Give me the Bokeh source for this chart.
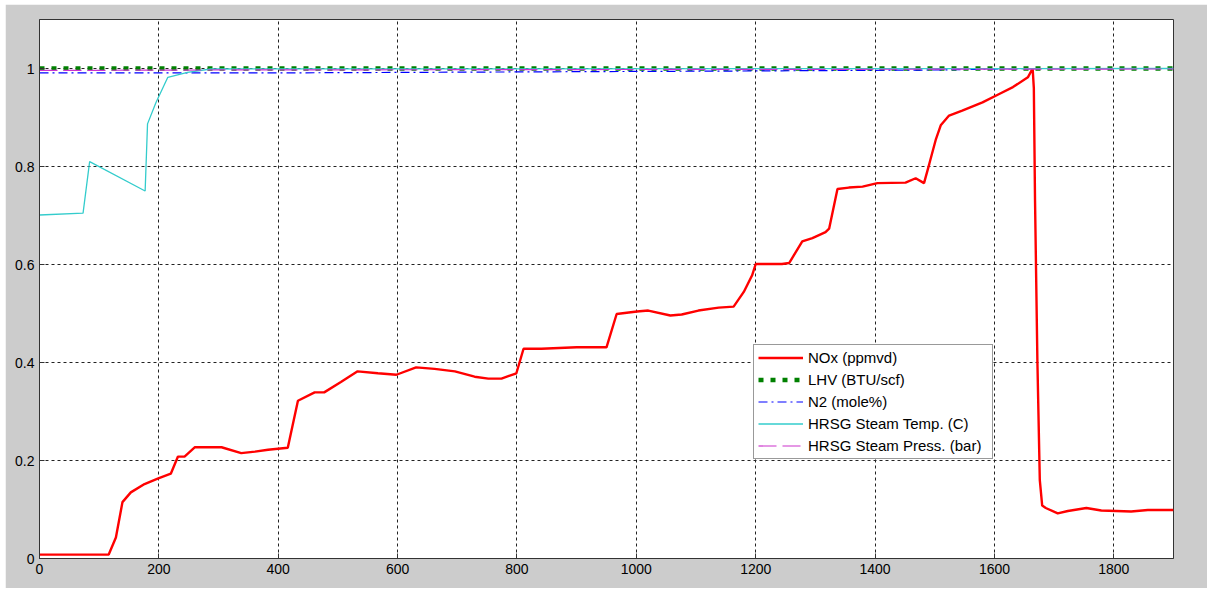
from bokeh.plotting import figure
from bokeh.models import Range1d, FixedTicker
from bokeh.embed import file_html
from bokeh.resources import INLINE

# ---- data (normalised values) ----
nox_x = [0, 116, 128, 139, 153, 176, 198, 220, 232, 243, 260, 305, 338, 361, 383, 416,
         433, 461, 477, 505, 533, 567, 598, 631, 662, 696, 729, 752, 774, 799, 811, 841,
         900, 950, 967, 1001, 1020, 1057, 1076, 1104, 1138, 1163, 1180, 1194, 1200, 1244,
         1256, 1278, 1295, 1317, 1323, 1337, 1356, 1379, 1404, 1451, 1468, 1482, 1491,
         1502, 1510, 1524, 1546, 1580, 1608, 1631, 1656, 1664, 1666, 1668, 1672, 1676,
         1680, 1686, 1706, 1723, 1754, 1779, 1829, 1857, 1900]
nox_y = [0.008, 0.008, 0.043, 0.115, 0.135, 0.152, 0.163, 0.173, 0.208, 0.208, 0.227, 0.227,
         0.215, 0.218, 0.222, 0.226, 0.322, 0.339, 0.339, 0.360, 0.382, 0.378, 0.375, 0.390,
         0.387, 0.382, 0.371, 0.367, 0.367, 0.378, 0.428, 0.428, 0.431, 0.431, 0.499, 0.504,
         0.506, 0.496, 0.498, 0.506, 0.512, 0.514, 0.544, 0.578, 0.601, 0.601, 0.603, 0.647,
         0.654, 0.666, 0.673, 0.754, 0.757, 0.759, 0.766, 0.767, 0.776, 0.766, 0.806, 0.856,
         0.884, 0.904, 0.914, 0.931, 0.948, 0.962, 0.982, 1.000, 0.960, 0.730, 0.400, 0.160,
         0.108, 0.103, 0.092, 0.097, 0.103, 0.098, 0.096, 0.099, 0.099]

lhv_x = [0, 1900]
lhv_y = [1.0, 1.0]

n2_x = [0, 400, 800, 1200, 1500, 1664, 1900]
n2_y = [0.991, 0.991, 0.993, 0.995, 0.997, 1.0, 1.0]

temp_x = [0, 73, 84, 177, 181, 195, 215, 248, 287, 1900]
temp_y = [0.701, 0.705, 0.810, 0.750, 0.887, 0.930, 0.982, 0.992, 0.999, 1.0]

press_x = [0, 300, 1000, 1900]
press_y = [0.996, 0.997, 0.998, 0.999]

x_ticks = [0, 200, 400, 600, 800, 1000, 1200, 1400, 1600, 1800]
y_ticks = [0, 0.2, 0.4, 0.6, 0.8, 1.0]

FONT = "Liberation Sans"

p = figure(width=1202, height=584, output_backend="svg", toolbar_location=None,
           x_range=Range1d(0, 1900), y_range=Range1d(0, 1.1),
           margin=(4, 0, 0, 5),
           min_border_left=34, min_border_right=34, min_border_top=15, min_border_bottom=30)

p.border_fill_color = "#cccccc"
p.background_fill_color = "white"
p.outline_line_color = "#333333"
p.outline_line_width = 1

p.xaxis.ticker = FixedTicker(ticks=x_ticks)
p.yaxis.ticker = FixedTicker(ticks=y_ticks)
p.yaxis.major_label_overrides = {0: "0", 1: "1"}

for ax in (p.xaxis[0], p.yaxis[0]):
    ax.major_tick_in = 5
    ax.major_tick_out = 0
    ax.minor_tick_line_color = None
    ax.axis_line_color = "#333333"
    ax.major_tick_line_color = "#333333"
    ax.major_label_text_font = FONT
    ax.major_label_text_font_size = "14px"
    ax.major_label_text_color = "black"
    ax.major_label_standoff = 5

for g in (p.xgrid[0], p.ygrid[0]):
    g.grid_line_color = "#222222"
    g.grid_line_dash = "3 3"
    g.grid_line_width = 1

p.line(nox_x, nox_y, color="#ff0000", line_width=2.4, legend_label="NOx (ppmvd)")
p.line(lhv_x, lhv_y, color="#008000", line_width=4.5, line_dash="5 7",
       legend_label="LHV (BTU/scf)")
p.line(n2_x, n2_y, color="#0000ff", line_width=1.2, line_dash="9 4 2 4",
       legend_label="N2 (mole%)")
p.line(temp_x, temp_y, color="#33cccc", line_width=1.3,
       legend_label="HRSG Steam Temp. (C)")
p.line(press_x, press_y, color="#cc33cc", line_width=1.2, line_dash="18 6",
       legend_label="HRSG Steam Press. (bar)")

lg = p.legend[0]
lg.location = (714, 99)
lg.glyph_width = 45
lg.glyph_height = 17
lg.label_height = 17
lg.label_width = 180
lg.spacing = 5
lg.padding = 4
lg.margin = 0
lg.label_standoff = 5
lg.label_text_font = FONT
lg.label_text_font_size = "15px"
lg.label_text_color = "black"
lg.border_line_color = "#333333"
lg.border_line_width = 1
lg.background_fill_color = "white"
lg.background_fill_alpha = 1

open("out.html", "w").write(file_html(p, INLINE))
